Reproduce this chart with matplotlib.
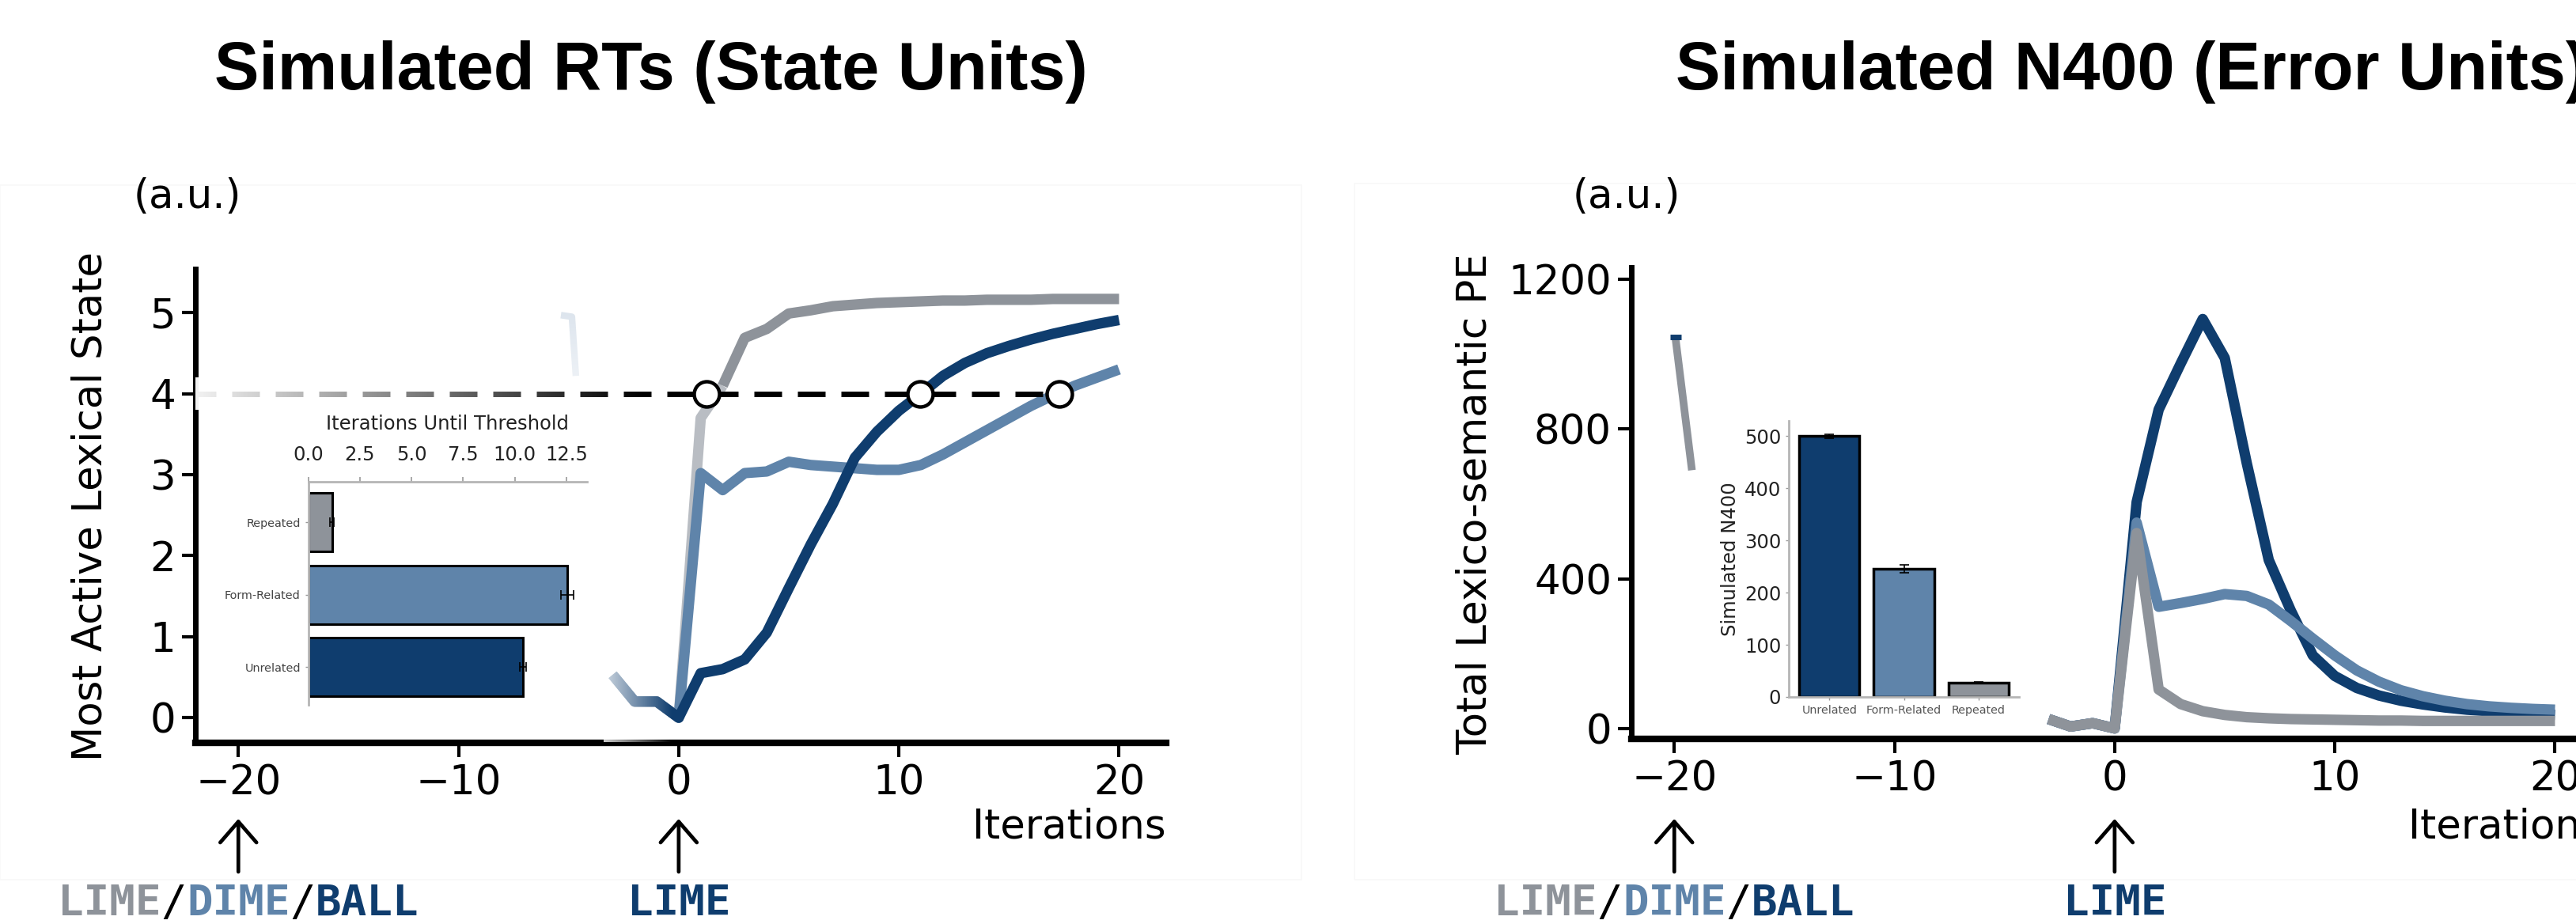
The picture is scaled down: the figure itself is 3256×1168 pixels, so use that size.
import numpy as np
import matplotlib.pyplot as plt
import matplotlib.transforms as mtransforms
from matplotlib.patches import Rectangle

plt.rcParams['font.family'] = ['DejaVu Sans']

navy = '#0f3d6e'
steel = '#5f84aa'
grey = '#8e939a'
light_grey = '#b9bdc3'

# iterations relative to target onset
iters = np.arange(-3, 21)

# left panel: most active lexical state
state_unrelated = [0.53, 0.2, 0.2, 0.0, 0.55, 0.6, 0.72, 1.05, 1.6, 2.14, 2.64, 3.21,
                   3.53, 3.79, 4.0, 4.22, 4.38, 4.5, 4.59, 4.67, 4.74, 4.8, 4.86, 4.91]
state_form = [0.53, 0.2, 0.2, 0.0, 3.02, 2.81, 3.02, 3.04, 3.16, 3.12, 3.1, 3.08,
              3.06, 3.06, 3.12, 3.25, 3.4, 3.55, 3.7, 3.85, 3.98, 4.1, 4.2, 4.3]
state_repeated = [0.53, 0.2, 0.2, 0.0, 3.7, 4.1, 4.69, 4.8, 4.99, 5.03, 5.08, 5.1,
                  5.12, 5.13, 5.14, 5.15, 5.15, 5.16, 5.16, 5.16, 5.17, 5.17, 5.17, 5.17]
threshold = 4
threshold_iters = [1.27, 10.97, 17.3]

# right panel: total lexico-semantic prediction error
pe_unrelated = [25, 5, 14, 0, 605, 852, 975, 1094, 990, 709, 450, 315,
                195, 140, 108, 88, 74, 64, 56, 50, 46, 42, 39, 36]
pe_form = [25, 5, 14, 0, 550, 325, 335, 346, 359, 354, 331, 287,
           240, 195, 155, 125, 102, 86, 74, 65, 59, 55, 52, 50]
pe_repeated = [25, 5, 14, 0, 522, 104, 65, 46, 36, 30, 27, 25,
               24, 23, 22, 21, 21, 20, 20, 20, 20, 20, 20, 20]

conds = ['Unrelated', 'Form-Related', 'Repeated']
iters_to_thresh = [10.4, 12.55, 1.15]
iters_to_thresh_err = [0.15, 0.3, 0.1]
n400 = [500, 246, 28]
n400_err = [4, 8, 1.5]

prime_words = ['LIME', 'DIME', 'BALL']
target_word = 'LIME'

# faded leftovers of the pre-stimulus traces
ghost_state_x = [-5.35, -4.85, -4.67]
ghost_state_y = [4.97, 4.95, 4.22]
ghost_pe_x = [-19.95, -19.2]
ghost_pe_y = [1045, 690]

W, H = 3256, 1168
fig = plt.figure(figsize=(W / 100, H / 100), dpi=100)

# faint frames of the two source panels
fig.patches.append(Rectangle((0, 1 - 1112 / H), 1645 / W, 878 / H, transform=fig.transFigure,
                             fill=False, edgecolor='#f8f8f8', lw=1.2))
fig.patches.append(Rectangle((1712 / W, 1 - 1112 / H), 1600 / W, 880 / H,
                             transform=fig.transFigure, fill=False, edgecolor='#f8f8f8', lw=1.2))


def px_box(x0, y0, x1, y1):
    return [x0 / W, 1 - y1 / H, (x1 - x0) / W, (y1 - y0) / H]


def style_main(ax):
    ax.spines['top'].set_visible(False)
    ax.spines['right'].set_visible(False)
    ax.spines['left'].set_linewidth(5)
    ax.spines['bottom'].set_linewidth(6)
    ax.tick_params(axis='y', length=12, width=3, pad=6, labelsize=37)
    ax.tick_params(axis='x', length=13, width=3, pad=6, labelsize=37)
    ax.set_xticks([-20, -10, 0, 10, 20])


def word_label(ax, xv, parts, fs=39):
    cw = 0.602 * fs
    n = sum(len(t) for t, c in parts)
    trans = mtransforms.blended_transform_factory(ax.transData, fig.transFigure)
    off = -n * cw / 2
    for t, c in parts:
        tr = mtransforms.offset_copy(trans, fig=fig, x=off, y=0, units='points')
        wt = 'normal' if t == '/' else 'bold'
        ax.text(xv, 1 - 1157 / H, t, transform=tr, family='DejaVu Sans Mono',
                weight=wt, fontsize=fs, color=c, ha='left', va='baseline', clip_on=False)
        off += len(t) * cw


def onset_marks(ax):
    trans = mtransforms.blended_transform_factory(ax.transData, fig.transFigure)
    for xv in (-20, 0):
        ax.annotate('', xy=(xv, 1 - 1035 / H), xytext=(xv, 1 - 1102 / H),
                    xycoords=trans, textcoords=trans, annotation_clip=False,
                    arrowprops=dict(arrowstyle='->,head_length=1.9,head_width=1.65',
                                    lw=3.4, color='black', shrinkA=0, shrinkB=0))
    word_label(ax, -20, [(prime_words[0], grey), ('/', 'black'), (prime_words[1], steel),
                         ('/', 'black'), (prime_words[2], navy)])
    word_label(ax, 0, [(target_word, navy)])
    trans2 = mtransforms.blended_transform_factory(ax.transAxes, fig.transFigure)
    ax.text(1.0, 1 - 1045 / H, 'Iterations', transform=trans2, ha='right', va='center',
            fontsize=37, clip_on=False)


# ---------------- left panel ----------------
ax1 = fig.add_axes(px_box(247, 340, 1474, 939))
style_main(ax1)
ax1.plot(iters[:4], state_repeated[:4], color=grey, lw=9.5, solid_capstyle='butt', zorder=3)
ax1.plot(iters[3:6], state_repeated[3:6], color=light_grey, lw=9.5, solid_capstyle='butt', zorder=3)
ax1.plot(iters[5:], state_repeated[5:], color=grey, lw=9.5, solid_capstyle='butt', zorder=3)
ax1.plot(iters, state_form, color=steel, lw=9.5, solid_capstyle='butt', zorder=4)
ax1.plot(iters, state_unrelated, color=navy, lw=9.5, solid_capstyle='butt', zorder=5)
ax1.plot(ghost_state_x, ghost_state_y, color='#dce4ed', lw=6, solid_capstyle='butt', zorder=2)

ax1.plot([-22.29, max(threshold_iters)], [threshold, threshold], color='black', lw=5,
         dashes=(5.04, 2.88), zorder=6)
ax1.plot(threshold_iters, [threshold] * 3, 'o', ms=23, mfc='white', mec='black', mew=3.2,
         zorder=9)

fade = np.ones((2, 256, 4))
fade[..., 3] = np.linspace(0.97, 0.0, 256)
ax1.imshow(fade, extent=(-22.3, -1.5, 3.8, 4.2), aspect='auto', zorder=7,
           interpolation='bilinear')
fade2 = np.ones((2, 256, 4))
fade2[..., 3] = np.linspace(0.8, 0.0, 256)
ax1.imshow(fade2, extent=(-3.4, -0.3, -0.3, 0.9), aspect='auto', zorder=7,
           interpolation='bilinear')
fade3 = np.ones((256, 2, 4))
fade3[..., 3] = np.linspace(0.0, 0.5, 256)[:, None]
ax1.imshow(fade3, extent=(-5.8, -4.2, 4.2, 5.05), aspect='auto', zorder=2.5,
           interpolation='bilinear', origin='upper')
ax1.set_xlim(-21.95, 22.14)
ax1.set_ylim(-0.31, 5.54)
ax1.set_yticks([0, 1, 2, 3, 4, 5])

# inset: iterations until threshold
axi1 = fig.add_axes(px_box(389.5, 609, 742, 891))
axi1.set_facecolor('none')
axi1.barh(range(3), iters_to_thresh, xerr=iters_to_thresh_err, height=0.81,
          color=[navy, steel, grey], edgecolor='black', linewidth=2.2,
          error_kw=dict(ecolor='black', elinewidth=1.2, capsize=4, capthick=1.2))
axi1.set_xlim(0, 13.5)
axi1.set_ylim(-0.52, 2.56)
axi1.xaxis.tick_top()
axi1.xaxis.set_label_position('top')
axi1.set_xticks([0, 2.5, 5, 7.5, 10, 12.5])
axi1.set_xticklabels(['0.0', '2.5', '5.0', '7.5', '10.0', '12.5'])
axi1.set_xlabel('Iterations Until Threshold', fontsize=17.5, color='#222222', labelpad=14)
axi1.set_yticks(range(3))
axi1.set_yticklabels(conds, fontsize=10.4, color='#444444')
axi1.tick_params(axis='x', labelsize=17.5, labelcolor='#222222', length=4, width=1.2,
                 color='#999999', pad=12)
axi1.tick_params(axis='y', length=3, width=1, color='#999999', pad=4)
for s in ('right', 'bottom'):
    axi1.spines[s].set_visible(False)
for s in ('top', 'left'):
    axi1.spines[s].set_color('#b5b5b5')
    axi1.spines[s].set_linewidth(2)

onset_marks(ax1)

# ---------------- right panel ----------------
ax2 = fig.add_axes(px_box(2062, 338, 3289, 934))
style_main(ax2)
ax2.plot(iters, pe_unrelated, color=navy, lw=9.5, solid_capstyle='butt', zorder=3)
ax2.plot(iters, pe_form, color=steel, lw=9.5, solid_capstyle='butt', zorder=4)
ax2.plot(iters, pe_repeated, color=grey, lw=9.5, solid_capstyle='butt', zorder=5)
ax2.plot(ghost_pe_x, ghost_pe_y, color=grey, lw=7, solid_capstyle='butt', zorder=3)
ax2.plot(ghost_pe_x[0], ghost_pe_y[0], marker='_', ms=10, mew=5, color=navy, zorder=4)
ax2.set_xlim(-21.95, 22.14)
ax2.set_ylim(-28, 1232)
ax2.set_yticks([0, 400, 800, 1200])

axi2 = fig.add_axes(px_box(2261, 531.7, 2551.7, 881))
axi2.set_facecolor('none')
axi2.bar(range(3), n400, yerr=n400_err, width=0.81, color=[navy, steel, grey],
         edgecolor='black', linewidth=2.5,
         error_kw=dict(ecolor='black', elinewidth=1.2, capsize=4, capthick=1.2))
axi2.set_xlim(-0.544, 2.54)
axi2.set_ylim(0, 530)
axi2.set_yticks([0, 100, 200, 300, 400, 500])
axi2.set_xticks(range(3))
axi2.set_xticklabels(conds, fontsize=10.3, color='#555555')
axi2.set_ylabel('Simulated N400', fontsize=17.5, color='#222222', labelpad=4)
axi2.tick_params(axis='y', labelsize=17.5, labelcolor='#222222', length=3, width=1,
                 color='#999999', pad=4)
axi2.tick_params(axis='x', length=3, width=1, color='#999999', pad=4)
for s in ('right', 'top'):
    axi2.spines[s].set_visible(False)
for s in ('left', 'bottom'):
    axi2.spines[s].set_color('#b5b5b5')
    axi2.spines[s].set_linewidth(2)

onset_marks(ax2)

# ---------------- figure texts ----------------
title_kw = dict(fontsize=61, fontweight='bold', family='Liberation Sans', va='baseline')
fig.text(822.5 / W, 1 - 113 / H, 'Simulated RTs (State Units)', ha='center', **title_kw)
fig.text(2118 / W, 1 - 113 / H, 'Simulated N400 (Error Units)', ha='left', **title_kw)
fig.text(237 / W, 1 - 249 / H, '(a.u.)', ha='center', va='center', fontsize=37)
fig.text(2056 / W, 1 - 249 / H, '(a.u.)', ha='center', va='center', fontsize=37)
fig.text(115 / W, 1 - 640 / H, 'Most Active Lexical State', rotation=90,
         ha='center', va='center', fontsize=37)
fig.text(1865 / W, 1 - 637 / H, 'Total Lexico-semantic PE', rotation=90,
         ha='center', va='center', fontsize=37)

fig.savefig('out.png', dpi=100)
